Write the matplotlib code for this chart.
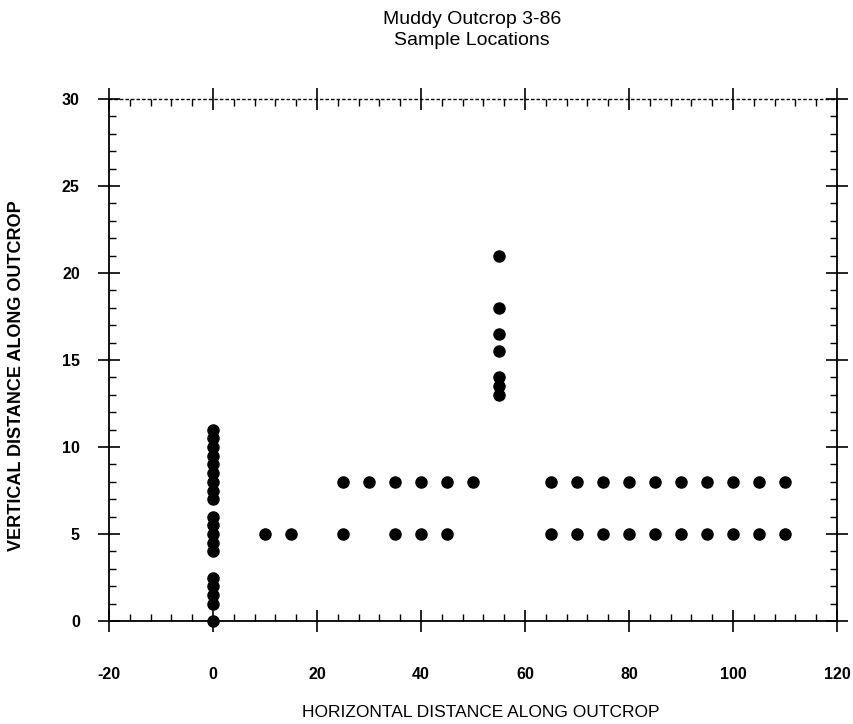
import matplotlib.pyplot as plt
from matplotlib.ticker import MultipleLocator

plt.rcParams["font.family"] = ["Liberation Sans", "DejaVu Sans"]
plt.rcParams["axes.unicode_minus"] = False

TITLE = "Muddy Outcrop 3-86\nSample Locations"
X_LABEL = "HORIZONTAL DISTANCE ALONG OUTCROP"
Y_LABEL = "VERTICAL DISTANCE ALONG OUTCROP"

# sample locations
col0_y = [0, 1, 1.5, 2, 2.5, 4, 4.5, 5, 5.5, 6,
          7, 7.5, 8, 8.5, 9, 9.5, 10, 10.5, 11]
col0_x = [0] * len(col0_y)

col55_y = [13, 13.5, 14, 15.5, 16.5, 18, 21]
col55_x = [55] * len(col55_y)

row5_x = [10, 15, 25, 35, 40, 45, 65, 70, 75, 80, 85, 90, 95, 100, 105, 110]
row5_y = [5] * len(row5_x)

row8_x = [25, 30, 35, 40, 45, 50, 65, 70, 75, 80, 85, 90, 95, 100, 105, 110]
row8_y = [8] * len(row8_x)

X_TICKS = [-20, 0, 20, 40, 60, 80, 100, 120]
Y_TICKS = [0, 5, 10, 15, 20, 25, 30]


def main():
    fig = plt.figure(figsize=(8.54, 7.24), dpi=100)
    ax = fig.add_axes([109 / 854, 1 - 621 / 724, 728 / 854, 522 / 724])

    for xs, ys in [(col0_x, col0_y), (col55_x, col55_y),
                   (row5_x, row5_y), (row8_x, row8_y)]:
        ax.plot(xs, ys, "o", color="black", markersize=8, clip_on=False,
                zorder=3)

    ax.set_xlim(-20, 120)
    ax.set_ylim(0, 30)
    ax.set_xticks(X_TICKS)
    ax.set_yticks(Y_TICKS)
    ax.xaxis.set_minor_locator(MultipleLocator(4))
    ax.yaxis.set_minor_locator(MultipleLocator(1))

    ax.tick_params(which="major", direction="inout", length=16, width=1.2,
                   top=True, right=True, labelsize=11.5, colors="black")
    ax.tick_params(which="minor", direction="in", length=5, width=1.0,
                   top=True, right=True)
    ax.tick_params(axis="x", which="major", pad=25)
    ax.tick_params(axis="y", which="major", pad=13)
    for lbl in ax.get_xticklabels() + ax.get_yticklabels():
        lbl.set_fontweight("bold")

    for side in ["left", "bottom", "right"]:
        ax.spines[side].set_linewidth(1.3)
    ax.spines["top"].set_linestyle((0, (1.5, 2.5)))
    ax.spines["top"].set_linewidth(1.0)

    ax.set_xlabel(X_LABEL, fontsize=12.5)
    ax.xaxis.set_label_coords(0.51, -0.161)
    ax.set_ylabel(Y_LABEL, fontsize=13, fontweight="bold")
    ax.yaxis.set_label_coords(-0.116, 0.47)
    fig.text(0.553, 0.985, TITLE, ha="center", va="top", fontsize=14,
             linespacing=1.35)

    fig.savefig("out.png", dpi=100)
    plt.close(fig)


if __name__ == "__main__":
    main()
